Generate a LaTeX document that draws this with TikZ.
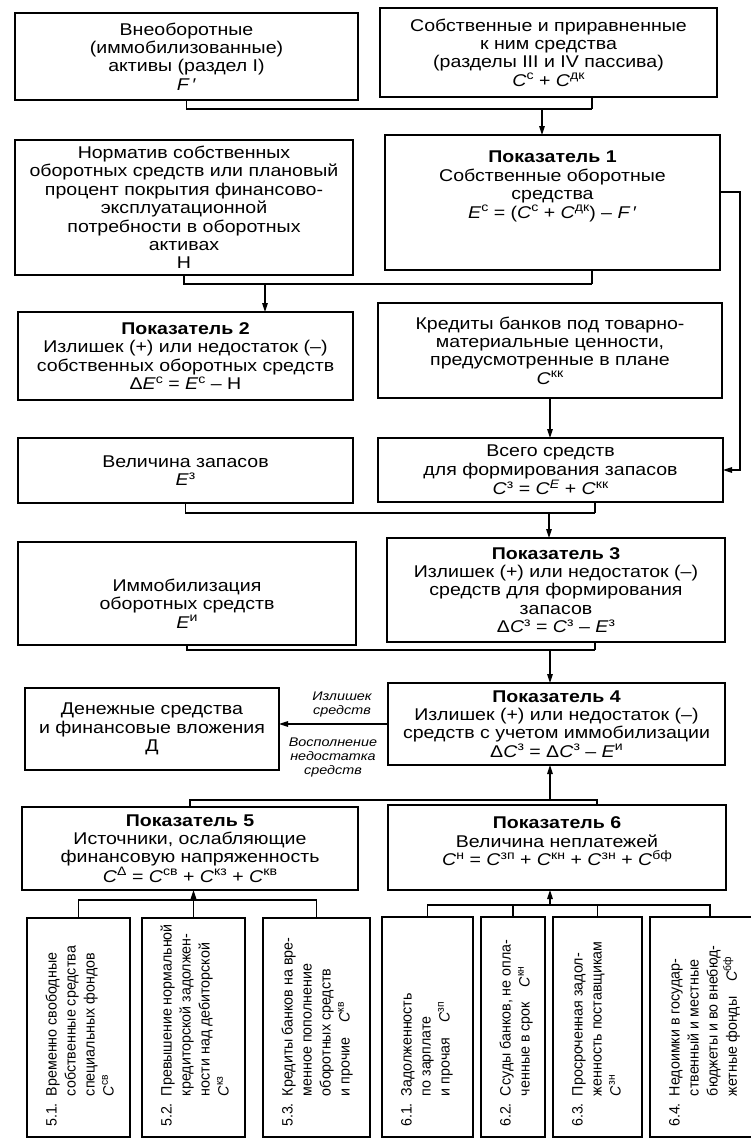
\documentclass[tikz,border=0pt]{standalone}
\usepackage{fontspec}
\setmainfont{Liberation Sans}[FakeStretch=1.15]
\newfontfamily\cellfont{Liberation Sans}[FakeStretch=0.95]
\usetikzlibrary{arrows.meta}

% italic letter with an upright superscript index
\newcommand\sv[2]{\textit{#1}\raisebox{0.38em}{\scalebox{0.72}{#2}}}

% framed box given by its corners (x1,y1)-(x2,y2); optional vertical text shift
\newcommand\mkbox[7][0]{%
  \node[box, minimum width={(#5)-(#3)}, minimum height={(#6)-(#4)}] (#2)
    at ({((#3)+(#5))/2},{((#4)+(#6))/2}) {};
  \node[txt] at ([yshift=#1]#2.center) {#7};}

% empty framed cell given by its corners
\newcommand\mkcell[5]{%
  \node[box, minimum width={(#4)-(#2)}, minimum height={(#5)-(#3)}] (#1)
    at ({((#2)+(#4))/2},{((#3)+(#5))/2}) {};}

% rotated numbered text inside a bottom cell
\newcommand\celltext[4][16]{%
  \node[rot] at ([xshift=#1,yshift=10]#2.south west)
    {\begin{tabular}{@{}l@{\hspace{7pt}}l@{}}#3 & #4\end{tabular}};}

\begin{document}
\begin{tikzpicture}[x=1pt,y=-1pt,
  box/.style={draw=black, line width=1.4pt, inner sep=0pt, outer sep=0pt},
  txt/.style={align=center, font=\fontsize{17}{18.4}\selectfont, inner sep=0pt},
  lab/.style={align=center, font=\fontsize{12.5}{14}\selectfont\itshape, inner sep=0pt},
  rot/.style={rotate=90, anchor=north west, inner sep=0pt,
    font=\cellfont\fontsize{15}{19}\selectfont},
  wire/.style={line width=1.2pt},
  arr/.style={wire, -{Triangle[length=9pt,width=5.5pt]}}]

\clip (0,0) rectangle (751,1140);
\fill[white] (0,0) rectangle (751,1140);

% ---- left column ----
\mkbox{A}{15}{13}{358}{100}{Внеоборотные\\(иммобилизованные)\\активы (раздел I)\\\textit{F}\,′}
\mkbox{H}{15}{140}{353}{275}{Норматив собственных\\оборотных средств или плановый\\процент покрытия финансово-\\эксплуатационной\\потребности в оборотных\\активах\\Н}
\mkbox{P2}{18}{312}{353}{400}{\textbf{Показатель 2}\\Излишек (+) или недостаток (–)\\собственных оборотных средств\\Δ\sv{E}{с} = \sv{E}{с} – Н}
\mkbox{Z}{18}{438}{353}{503}{Величина запасов\\\sv{E}{з}}
\mkbox[-10]{I}{18}{542}{356}{645}{Иммобилизация\\оборотных средств\\\sv{E}{и}}
\mkbox{D}{25}{688}{279}{770}{Денежные средства\\и финансовые вложения\\Д}
\mkbox{P5}{22}{807}{358}{890}{\textbf{Показатель 5}\\Источники, ослабляющие\\финансовую напряженность\\\sv{C}{Δ} = \sv{C}{св} + \sv{C}{кз} + \sv{C}{кв}}

% ---- right column ----
\mkbox{B}{380}{8}{717}{97}{Собственные и приравненные\\к ним средства\\(разделы III и IV пассива)\\\sv{C}{с} + \sv{C}{дк}}
\mkbox[16]{P1}{385}{135}{720}{270}{\textbf{Показатель 1}\\Собственные оборотные\\средства\\\sv{E}{с} = (\sv{C}{с} + \sv{C}{дк}) – \textit{F}\,′}
\mkbox{K}{378}{303}{722}{398}{Кредиты банков под товарно-\\материальные ценности,\\предусмотренные в плане\\\sv{C}{кк}}
\mkbox{S}{378}{438}{723}{502}{Всего средств\\для формирования запасов\\\sv{C}{з} = \sv{C}{\textit{E}} + \sv{C}{кк}}
\mkbox{P3}{387}{538}{725}{642}{\textbf{Показатель 3}\\Излишек (+) или недостаток (–)\\средств для формирования\\запасов\\Δ\sv{C}{з} = \sv{C}{з} – \sv{E}{з}}
\mkbox{P4}{388}{683}{725}{765}{\textbf{Показатель 4}\\Излишек (+) или недостаток (–)\\средств с учетом иммобилизации\\Δ\sv{C}{з} = Δ\sv{C}{з} – \sv{E}{и}}
\mkbox[6]{P6}{388}{805}{726}{890}{\textbf{Показатель 6}\\Величина неплатежей\\\sv{C}{н} = \sv{C}{зп} + \sv{C}{кн} + \sv{C}{зн} + \sv{C}{бф}}

% ---- bottom cells ----
\mkcell{s51}{27}{918}{130}{1137}
\mkcell{s52}{142}{918}{245}{1137}
\mkcell{s53}{263}{918}{370}{1137}
\mkcell{s61}{382}{917}{473}{1137}
\mkcell{s62}{481}{917}{545}{1137}
\mkcell{s63}{553}{917}{642}{1137}
\mkcell{s64}{650}{917}{770}{1137}

\celltext{s51}{5.1.}{Временно свободные\\ & собственные средства\\ & специальных фондов\\ & \sv{C}{св}}
\celltext{s52}{5.2.}{Превышение нормальной\\ & кредиторской задолжен-\\ & ности над дебиторской\\ & \sv{C}{кз}}
\celltext{s53}{5.3.}{Кредиты банков на вре-\\ & менное пополнение\\ & оборотных средств\\ & и прочие\quad\sv{C}{кв}}
\celltext{s61}{6.1.}{Задолженность\\ & по зарплате\\ & и прочая\quad\sv{C}{зп}}
\celltext{s62}{6.2.}{Ссуды банков, не опла-\\ & ченные в срок\quad\sv{C}{кн}}
\celltext{s63}{6.3.}{Просроченная задол-\\ & женность поставщикам\\ & \sv{C}{зн}}
\celltext{s64}{6.4.}{Недоимки в государ-\\ & ственный и местные\\ & бюджеты и во внебюд-\\ & жетные фонды\quad\sv{C}{бф}}

% ---- junction points ----
\coordinate (j1) at (592,109);  \coordinate (j1a) at (542,109);
\coordinate (j2) at (592,284);  \coordinate (j2a) at (265,284);
\coordinate (r1) at (740,192);
\coordinate (j5) at (595,513);  \coordinate (j5a) at (549,513);
\coordinate (j6) at (595,650);  \coordinate (j6a) at (550,650);
\coordinate (j8) at (597,800);  \coordinate (j8a) at (550,800);
\coordinate (j9) at (193,900);
\coordinate (h6) at (550,905);

% ---- connectors ----
\draw[wire] (A.south) |- (j1);
\draw[wire] (B.south -| j1) -- (j1);
\draw[arr] (j1a) -- (j1a |- P1.north);

\draw[wire] (H.south) |- (j2);
\draw[wire] (P1.south -| j2) -- (j2);
\draw[arr] (j2a) -- (j2a |- P2.north);

\draw[arr] (P1.east |- r1) -- (r1) |- (S.east);

\draw[arr] (K.south) -- (K.south |- S.north);

\draw[wire] (Z.south) |- (j5);
\draw[wire] (S.south -| j5) -- (j5);
\draw[arr] (j5a) -- (j5a |- P3.north);

\draw[wire] (I.south) |- (j6);
\draw[wire] (P3.south -| j6) -- (j6);
\draw[arr] (j6a) -- (j6a |- P4.north);

\draw[arr] (P4.west) -- (P4.west -| D.east);
\node[lab] at (342,704) {Излишек\\средств};
\node[lab] at (333,757) {Восполнение\\недостатка\\средств};

\draw[wire] (P5.north) |- (j8) -- (j8 |- P6.north);
\draw[arr] (j8a) -- (j8a |- P4.south);

\draw[wire] (s51.north) |- (j9) -| (s53.north);
\draw[arr] (s52.north) -- (s52.north |- P5.south);

\draw[wire] (s61.north) |- (h6) -| (s64.north);
\draw[wire] (s62.north) -- (s62.north |- h6);
\draw[wire] (s63.north) -- (s63.north |- h6);
\draw[arr] (h6) -- (h6 |- P6.south);
\end{tikzpicture}
\end{document}
